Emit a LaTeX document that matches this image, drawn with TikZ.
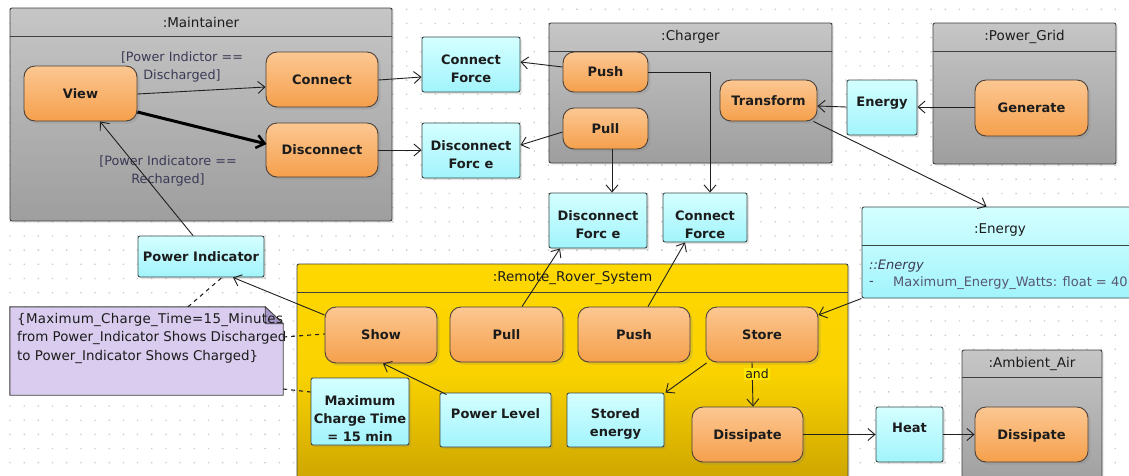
\documentclass[tikz,border=0pt]{standalone}
\usepackage{fontspec}
\setmainfont{DejaVu Sans}
\usetikzlibrary{arrows.meta,calc,shadows}

\definecolor{dotc}{HTML}{C8C8C8}
\definecolor{acttop}{HTML}{FCC792}
\definecolor{actbot}{HTML}{F5A04C}
\definecolor{actedge}{HTML}{4A4038}
\definecolor{objtop}{HTML}{D4FFFF}
\definecolor{objbot}{HTML}{A2F4FC}
\definecolor{objedge}{HTML}{3A4848}
\definecolor{frmtop}{HTML}{C6C6C6}
\definecolor{frmbot}{HTML}{9E9E9E}
\definecolor{frmedge}{HTML}{404040}
\definecolor{sysTop}{HTML}{FFD800}
\definecolor{sysBot}{HTML}{C9A100}
\definecolor{notefill}{HTML}{D9CCEE}
\definecolor{notefold}{HTML}{A898C8}
\definecolor{txt}{HTML}{1C1C1C}
\definecolor{guardc}{HTML}{3A3A56}
\definecolor{linec}{HTML}{202020}
\definecolor{andfill}{HTML}{FFE600}

\tikzset{
  act/.style={rounded corners=11pt, draw=actedge, line width=0.9pt,
    top color=acttop, bottom color=actbot, text=txt, align=center,
    font={\fontsize{13}{18}\selectfont\bfseries},
    text height=9pt, text depth=-5.5pt,
    drop shadow={shadow xshift=2.5pt,shadow yshift=-2.5pt,opacity=0.22}},
  obj/.style={rounded corners=2pt, draw=objedge, line width=0.9pt,
    top color=objtop, bottom color=objbot, text=txt, align=center,
    font={\fontsize{13}{18}\selectfont\bfseries},
    drop shadow={shadow xshift=2pt,shadow yshift=-2pt,opacity=0.2}},
  % single line label: fixed height, depth moves it up or down
  oneline/.style={text height=9pt, text depth=#1},
  % label of several lines, set on its own over an object box
  objtxt/.style={align=center, inner sep=0pt, text=txt,
    font={\fontsize{13}{18}\selectfont\bfseries}},
  frame/.style={rounded corners=2pt, draw=frmedge, line width=0.9pt,
    top color=frmtop, bottom color=frmbot,
    drop shadow={shadow xshift=2pt,shadow yshift=-2pt,opacity=0.12}},
  hdr/.style={draw=frmedge, line width=0.9pt},
  title/.style={text=txt, font={\fontsize{13.5}{18}\selectfont}, inner sep=0pt},
  guard/.style={text=guardc, align=center, inner sep=0pt,
    font={\fontsize{12.8}{18}\selectfont}},
  flow/.style={draw=linec, line width=0.9pt,
    -{Straight Barb[length=7pt,width=12pt,line width=0.9pt]}},
  heavy/.style={draw=black, line width=3pt,
    -{Straight Barb[length=8pt,width=13pt,line width=2.5pt]}},
  anchorline/.style={draw=linec, line width=1.1pt, dash pattern=on 4pt off 4pt},
}

\begin{document}
\begin{tikzpicture}[x=1pt,y=-1pt]
\useasboundingbox (0,0) rectangle (1129,475);
\clip (0,0) rectangle (1129,475);
\fill[white] (0,0) rectangle (1129,475);

% dotted drawing grid
\fill[dotc] \foreach \i in {0,...,79} { \foreach \j in {0,...,33} {
  ({9.4+14.17*\i},{8.6+14.17*\j}) rectangle ++(1.3,1.3) } };

% ---------- Maintainer ----------
\node[frame, minimum width=382, minimum height=213] (Maint) at (201,114.5) {};
\draw[hdr] ($(Maint.north west)+(0,29)$) -- ($(Maint.north east)+(0,29)$);
\node[title] (MaintT) at ($(Maint.north)+(0,14.5)$) {:Maintainer};

% ---------- Charger ----------
\node[frame, minimum width=283, minimum height=140] (Charger) at (690.5,93) {};
\draw[hdr] ($(Charger.north west)+(0,29)$) -- ($(Charger.north east)+(0,29)$);
\node[title] (ChargerT) at ($(Charger.north)+(0,14.5)$) {:Charger};

% ---------- Power grid ----------
\node[frame, minimum width=183, minimum height=141] (Grid) at (1024.5,93.5) {};
\draw[hdr] ($(Grid.north west)+(0,29)$) -- ($(Grid.north east)+(0,29)$);
\node[title] (GridT) at ($(Grid.north)+(0,14.5)$) {:Power\_Grid};

% ---------- Remote rover system ----------
\node[rounded corners=2pt, draw=frmedge, line width=0.9pt,
      top color=sysTop, bottom color=sysBot, middle color=sysTop!88!sysBot,
      drop shadow={shadow xshift=2pt,shadow yshift=-2pt,opacity=0.12},
      minimum width=551, minimum height=226] (Rover) at (572.5,377) {};
\draw[hdr] ($(Rover.north west)+(0,29)$) -- ($(Rover.north east)+(0,29)$);
\node[title] (RoverT) at ($(Rover.north)+(0,14.5)$) {:Remote\_Rover\_System};

% ---------- Ambient air ----------
\node[frame, minimum width=140, minimum height=140] (Air) at (1032,420) {};
\draw[hdr] ($(Air.north west)+(0,28)$) -- ($(Air.north east)+(0,28)$);
\node[title] (AirT) at ($(Air.north)+(0,14)$) {:Ambient\_Air};

% ---------- Energy class box ----------
\node[draw=objedge, line width=0.9pt, top color=objtop, bottom color=objbot,
      rounded corners=2pt, minimum width=276, minimum height=91] (EnergyClass) at (1000,252.5) {};
\draw[hdr, draw=objedge] ($(EnergyClass.north west)+(0,39)$) -- ($(EnergyClass.north east)+(0,39)$);
\node[title] (EnergyClassT) at ($(EnergyClass.north)+(0,23)$) {:Energy};
\node[anchor=west, inner sep=0pt, text=guardc, font={\fontsize{13}{18}\selectfont\itshape}]
  (EnergyKind) at (869,266) {::Energy};
\node[anchor=west, inner sep=0pt, text=guardc, font={\fontsize{13}{18}\selectfont}]
  (EnergyDash) at (869,283) {-};
\node[anchor=west, inner sep=0pt, text=guardc!85!white, font={\fontsize{13}{18}\selectfont}]
  (EnergyAttr) at (893,283) {Maximum\_Energy\_Watts: float = 40};

% ---------- actions ----------
\node[act, minimum width=113, minimum height=55] (View) at (80.5,93.5) {View};
\node[act, minimum width=112, minimum height=55] (Connect) at (322,79.5) {Connect};
\node[act, minimum width=112, minimum height=54] (Disconnect) at (322,150) {Disconnect};
\node[act, minimum width=85, minimum height=40] (ChPush) at (605.5,72) {Push};
\node[act, minimum width=85, minimum height=41] (ChPull) at (605.5,128.5) {Pull};
\node[act, minimum width=97, minimum height=41] (Transform) at (768.5,100.5) {Transform};
\node[act, minimum width=113, minimum height=56] (Generate) at (1031.5,108) {Generate};
\node[act, minimum width=112, minimum height=56] (Show) at (381,335) {Show};
\node[act, minimum width=113, minimum height=55] (RPull) at (506.5,334.5) {Pull};
\node[act, minimum width=112, minimum height=55] (RPush) at (634,334.5) {Push};
\node[act, minimum width=112, minimum height=55] (Store) at (762,334.5) {Store};
\node[act, minimum width=111, minimum height=55] (RDissipate) at (747.5,434.5) {Dissipate};
\node[act, minimum width=113, minimum height=55] (ADissipate) at (1031.5,434.5) {Dissipate};

% ---------- object nodes ----------
\node[obj, minimum width=98, minimum height=55] (CF1) at (471,64.5) {};
\node[objtxt] (CF1t) at ($(CF1)+(0,4)$) {Connect\\Force};
\node[obj, minimum width=98, minimum height=55] (DF1) at (471,150.5) {};
\node[objtxt] (DF1t) at ($(DF1)+(0,4)$) {Disconnect\\Forc e};
\node[obj, minimum width=98, minimum height=55] (DF2) at (598,220.5) {};
\node[objtxt] (DF2t) at ($(DF2)+(0,4)$) {Disconnect\\Forc e};
\node[obj, minimum width=84, minimum height=49] (CF2) at (705,217.5) {};
\node[objtxt] (CF2t) at ($(CF2)+(0,7)$) {Connect\\Force};
\node[obj, oneline=10.3pt, minimum width=70, minimum height=55] (Energy1) at (882,107.5) {Energy};
\node[obj, oneline=-3.7pt, minimum width=126, minimum height=41] (PowerInd) at (201,256.5) {Power Indicator};
\node[obj, minimum width=98, minimum height=67] (MaxCharge) at (360,411.5) {};
\node[objtxt] (MaxChargeT) at ($(MaxCharge)+(0,7)$) {Maximum\\Charge Time\\= 15 min};
\node[obj, oneline=11.3pt, minimum width=111, minimum height=54] (PowerLevel) at (495.5,420) {Power Level};
\node[obj, minimum width=97, minimum height=54] (StoredEnergy) at (615.5,420) {};
\node[objtxt] (StoredEnergyT) at ($(StoredEnergy)+(0,4)$) {Stored\\energy};
\node[obj, oneline=12.3pt, minimum width=67, minimum height=55] (Heat) at (909.5,434.5) {Heat};

% ---------- constraint note ----------
\node[minimum width=273, minimum height=88, inner sep=0pt] (Note) at (146.5,351) {};
\draw[draw=frmedge, line width=0.9pt, fill=notefill]
  (Note.north west) -- ($(Note.north east)+(-18,0)$) -- ($(Note.north east)+(0,17)$)
  -- (Note.south east) -- (Note.south west) -- cycle;
\draw[draw=frmedge, line width=0.7pt, fill=notefold]
  ($(Note.north east)+(-18,0)$) -- ($(Note.north east)+(0,17)$) -- ($(Note.north east)+(-18,17)$) -- cycle;
\node[anchor=north west, inner sep=0pt, align=left, text=txt,
      font={\fontsize{13.4}{18.5}\selectfont}] (NoteText) at (17,313)
  {{\addfontfeature{LetterSpace=2.3}\{Maximum\_Charge\_Time=15\_Minutes}\\from Power\_Indicator Shows Discharged\\to Power\_Indicator Shows Charged\}};

% ---------- guards ----------
\node[guard] (G1) at (182,67) {[Power Indictor ==\\Discharged]};
\node[guard] (G2) at (168,171) {[Power Indicatore ==\\Recharged]};

% ---------- flows in the maintainer ----------
\draw[flow] ($(View.east)+(0,0.5)$) -- ($(Connect.west)+(0,7.5)$);
\draw[heavy] ($(View.east)+(0,18.5)$) -- ($(Disconnect.west)+(1,-6)$);
\draw[flow] ($(Connect.east)+(0,0.5)$) -- ($(CF1.west)+(0,12.5)$);
\draw[flow] (Disconnect.east) -- ($(DF1.west)+(0,-0.5)$);

% ---------- flows around the charger ----------
\draw[flow] ($(ChPush.west)+(0,-5)$) -- ($(CF1.east)+(0,-2.5)$);
\draw[flow] ($(ChPull.west)+(0,3.5)$) -- ($(DF1.east)+(0,-5.5)$);
\draw[flow] ($(ChPull.south)+(6.5,0)$) -- ($(DF2.north)+(14,0)$);
\draw[flow] (ChPush.east) -| ($(CF2.north)+(5,0)$);
\draw[flow] ($(Generate.west)+(0,-1)$) -- ($(Energy1.east)+(0,-0.5)$);
\draw[flow] ($(Energy1.west)+(0,-0.5)$) -- ($(Transform.east)+(0,5.5)$);
\draw[flow] ($(Transform.south east)+(-4,0)$) -- ($(EnergyClass.north west)+(125,0)$);

% ---------- flows around the rover ----------
\draw[flow] (EnergyClass.south west) -- ($(Store.east)+(0,-19.5)$);
\draw[flow] ($(RPull.north)+(15.5,0)$) -- ($(DF2.south)+(-38,0)$);
\draw[flow] ($(RPush.north)+(14,0)$) -- ($(CF2.south)+(-20,0)$);
\draw[flow] ($(Show.west)+(0,-20)$) -- ($(PowerInd.south)+(32,0)$);
\draw[flow] ($(PowerInd.north)+(-8,0)$) -- ($(View.south)+(19.5,0)$);
\draw[flow] ($(PowerLevel.north west)+(7,2)$) -- ($(Show.south)+(2,0)$);
\draw[flow] ($(Store.south west)+(1,0.5)$) -- ($(StoredEnergy.north east)+(1,0)$);
\draw[flow] ($(Store.south)+(-10,0)$) -- ($(RDissipate.north)+(5.5,0)$);
\node[fill=andfill, inner sep=1.5pt, text=txt, font={\fontsize{12.5}{14}\selectfont}] (AndLbl) at (757,374) {and};
\draw[flow] (RDissipate.east) -- (Heat.west);
\draw[flow] (Heat.east) -- (ADissipate.west);

% ---------- note anchors ----------
\draw[anchorline] ($(Note.north)+(41.5,0)$) -- ($(PowerInd.south)+(21,0)$);
\draw[anchorline] ($(Note.east)+(0,-14)$) -- ($(Show.west)+(0,-1)$);
\draw[anchorline] ($(Note.east)+(0,38)$) -- ($(MaxCharge.west)+(0,-19.5)$);
\end{tikzpicture}
\end{document}
